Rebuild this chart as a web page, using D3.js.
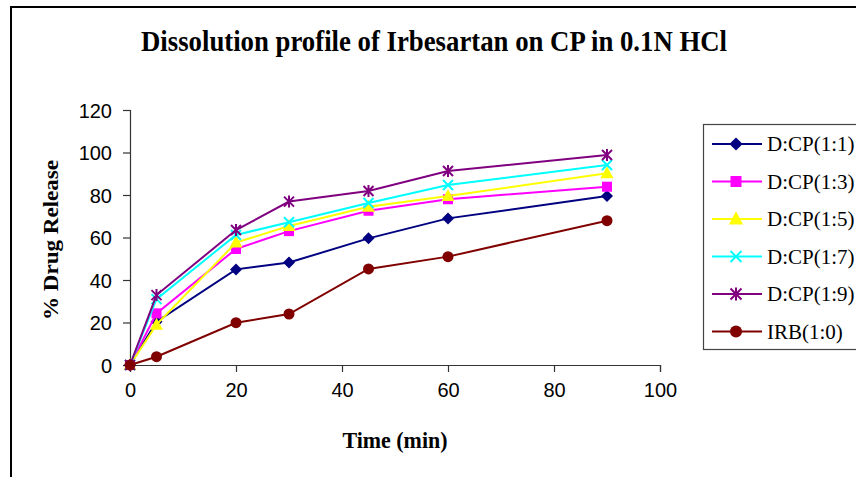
<!DOCTYPE html>
<html>
<head>
<meta charset="utf-8">
<script src="https://cdn.jsdelivr.net/npm/d3@7/dist/d3.min.js"></script>
<style>
  html, body { margin: 0; padding: 0; background: #fff; }
  svg { display: block; }
</style>
</head>
<body>
<svg id="chart" width="856" height="477"></svg>
<script>
// Sampling times (min)
const times = [0, 5, 20, 30, 45, 60, 90];

// Cumulative % drug release for each drug:carrier ratio
const seriesNames = ["D:CP(1:1)", "D:CP(1:3)", "D:CP(1:5)", "D:CP(1:7)", "D:CP(1:9)", "IRB(1:0)"];
const cp11 = [0, 20.4, 45.0, 48.2, 59.6, 69.0, 79.5];
const cp13 = [0, 24.3, 54.6, 63.0, 72.6, 78.0, 83.9];
const cp15 = [0, 19.0, 57.6, 65.4, 74.5, 79.5, 90.2];
const cp17 = [0, 31.0, 61.2, 67.2, 76.2, 84.7, 94.1];
const cp19 = [0, 32.9, 63.5, 76.9, 81.9, 91.3, 98.8];
const irb10 = [0, 3.9, 19.9, 24.0, 45.2, 51.0, 67.9];
const seriesValues = [cp11, cp13, cp15, cp17, cp19, irb10];

// Axis ticks
const xTicks = [0, 20, 40, 60, 80, 100];
const yTicks = [0, 20, 40, 60, 80, 100, 120];

const colors = ["#000080", "#FF00FF", "#FFFF00", "#00FFFF", "#800080", "#800000"];
const markers = ["diamond", "square", "triangle", "cross", "star", "circle"];

const svg = d3.select("#chart");

// Outer frame
svg.append("path")
  .attr("d", "M11,477 L11,7 L856,7")
  .attr("fill", "none")
  .attr("stroke", "#000")
  .attr("stroke-width", 2);

const plot = { left: 130, right: 660, top: 110, bottom: 365 };

const x = d3.scaleLinear().domain([0, 100]).range([plot.left, plot.right]);
const y = d3.scaleLinear().domain([0, 120]).range([plot.bottom, plot.top]);

// Axes
const xAxis = d3.axisBottom(x).tickValues(xTicks).tickSize(7).tickPadding(11);
const yAxis = d3.axisLeft(y).tickValues(yTicks).tickSize(7).tickPadding(11);

const gx = svg.append("g").attr("transform", `translate(0,${plot.bottom})`).call(xAxis);
const gy = svg.append("g").attr("transform", `translate(${plot.left},0)`).call(yAxis);

[gx, gy].forEach(g => {
  g.select(".domain").attr("stroke", "#333").attr("stroke-width", 1.2);
  g.selectAll(".tick line").attr("stroke", "#333").attr("stroke-width", 1.2);
  g.selectAll(".tick text")
    .attr("fill", "#000")
    .style("font-family", "'Liberation Sans', Arial, sans-serif")
    .style("font-size", "20px");
});
gy.selectAll(".tick text").attr("dy", "0.36em");

// Chart title
svg.append("text")
  .attr("x", 434).attr("y", 51)
  .attr("text-anchor", "middle")
  .attr("textLength", 586)
  .attr("lengthAdjust", "spacingAndGlyphs")
  .style("font-family", "'Liberation Serif', 'Times New Roman', serif")
  .style("font-weight", "bold")
  .style("font-size", "30px")
  .text("Dissolution profile of Irbesartan on CP in 0.1N HCl");

// Axis titles
svg.append("text")
  .attr("x", 395).attr("y", 448)
  .attr("text-anchor", "middle")
  .attr("textLength", 105)
  .attr("lengthAdjust", "spacingAndGlyphs")
  .style("font-family", "'Liberation Serif', 'Times New Roman', serif")
  .style("font-weight", "bold")
  .style("font-size", "24px")
  .text("Time (min)");

svg.append("text")
  .attr("transform", "translate(58,240) rotate(-90)")
  .attr("text-anchor", "middle")
  .attr("textLength", 160)
  .attr("lengthAdjust", "spacingAndGlyphs")
  .style("font-family", "'Liberation Serif', 'Times New Roman', serif")
  .style("font-weight", "bold")
  .style("font-size", "22px")
  .text("% Drug Release");

// Marker drawing
function drawMarker(g, type, color, s = 1) {
  switch (type) {
    case "diamond":
      g.append("path").attr("d", `M0,${-6 * s} L${6 * s},0 L0,${6 * s} L${-6 * s},0 Z`).attr("fill", color);
      break;
    case "square":
      g.append("rect").attr("x", -5 * s).attr("y", -5 * s).attr("width", 10 * s).attr("height", 10 * s).attr("fill", color);
      break;
    case "triangle":
      g.append("path").attr("d", `M0,${-7 * s} L${6.5 * s},${5 * s} L${-6.5 * s},${5 * s} Z`).attr("fill", color);
      break;
    case "cross":
      g.append("path").attr("d", `M${-5 * s},${-5 * s} L${5 * s},${5 * s} M${-5 * s},${5 * s} L${5 * s},${-5 * s}`)
        .attr("stroke", color).attr("stroke-width", 2).attr("fill", "none");
      break;
    case "star":
      g.append("path").attr("d", `M${-5 * s},${-5 * s} L${5 * s},${5 * s} M${-5 * s},${5 * s} L${5 * s},${-5 * s} M0,${-6 * s} L0,${6 * s}`)
        .attr("stroke", color).attr("stroke-width", 2).attr("fill", "none");
      break;
    case "circle":
      g.append("circle").attr("r", 5.5 * s).attr("fill", color);
      break;
  }
}

const line = d3.line().x(d => x(d[0])).y(d => y(d[1]));

seriesValues.forEach((vals, i) => {
  const pts = times.map((t, j) => [t, vals[j]]);
  const g = svg.append("g");
  g.append("path")
    .attr("d", line(pts))
    .attr("fill", "none")
    .attr("stroke", colors[i])
    .attr("stroke-width", 2);
  pts.forEach(p => {
    const m = g.append("g").attr("transform", `translate(${x(p[0])},${y(p[1])})`);
    drawMarker(m, markers[i], colors[i]);
  });
});

// Legend
const legend = svg.append("g");
legend.append("rect")
  .attr("x", 703.5).attr("y", 124.5)
  .attr("width", 170).attr("height", 225)
  .attr("fill", "#fff")
  .attr("stroke", "#444")
  .attr("stroke-width", 1.2);

seriesNames.forEach((name, i) => {
  const ly = 144 + i * 37.5;
  const row = legend.append("g");
  row.append("line")
    .attr("x1", 712).attr("x2", 762)
    .attr("y1", ly).attr("y2", ly)
    .attr("stroke", colors[i]).attr("stroke-width", 2);
  const m = row.append("g").attr("transform", `translate(736,${ly})`);
  drawMarker(m, markers[i], colors[i], 1.1);
  row.append("text")
    .attr("x", 767).attr("y", ly)
    .attr("dy", "0.35em")
    .style("font-family", "'Liberation Serif', 'Times New Roman', serif")
    .style("font-size", "21px")
    .text(name);
});
</script>
</body>
</html>
